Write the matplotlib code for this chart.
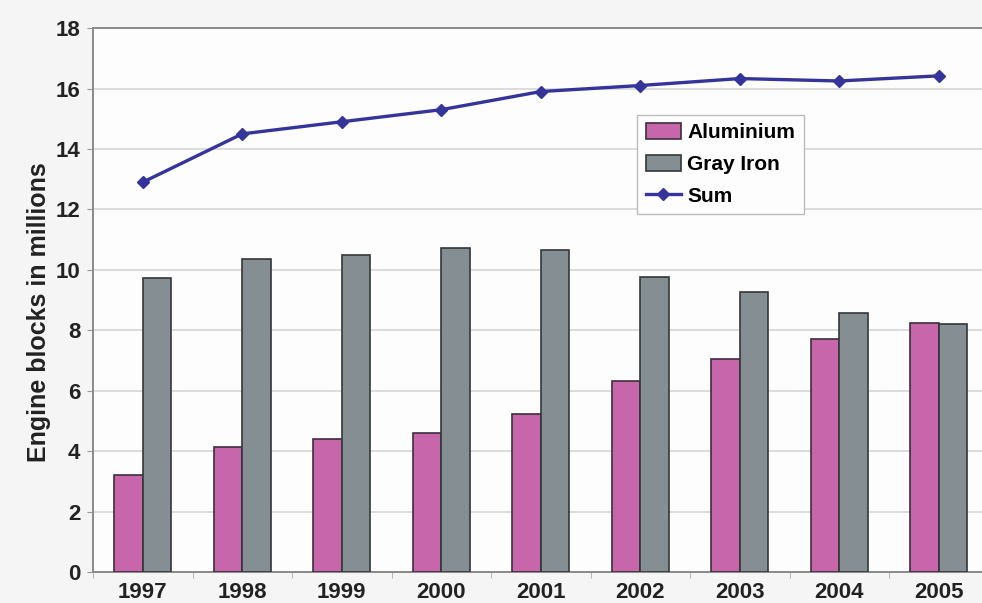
import matplotlib.pyplot as plt
import numpy as np

years = ['1997', '1998', '1999', '2000', '2001', '2002', '2003', '2004', '2005']
aluminium = [3.2, 4.15, 4.4, 4.6, 5.23, 6.32, 7.05, 7.7, 8.24]
gray_iron = [9.73, 10.36, 10.5, 10.72, 10.65, 9.76, 9.27, 8.57, 8.2]
total = [12.9, 14.5, 14.9, 15.3, 15.9, 16.1, 16.33, 16.25, 16.42]

plt.rcParams['font.family'] = ['Liberation Sans', 'DejaVu Sans']
plt.rcParams['font.weight'] = 'bold'

fig = plt.figure(figsize=(9.82, 6.03), dpi=100, facecolor='#f5f5f5')
ax = fig.add_axes([0.0947, 0.0514, 0.912, 0.902])
ax.set_facecolor('#fdfdfd')

x = np.arange(len(years))
w = 0.286
b1 = ax.bar(x - w / 2, aluminium, w, color='#c866ac', edgecolor='#3a2f3a',
            linewidth=1.2, label='Aluminium', zorder=3)
b2 = ax.bar(x + w / 2, gray_iron, w, color='#858e92', edgecolor='#333838',
            linewidth=1.2, label='Gray Iron', zorder=3)
ln, = ax.plot(x, total, color='#34349a', linewidth=2.4, marker='D',
              markersize=6, label='Sum', zorder=4)

ax.set_xlim(-0.5, 8.5)
ax.set_ylim(0, 18)
ax.set_yticks(range(0, 19, 2))
ax.set_xticks(x)
ax.set_xticklabels(years)
ax.set_xticks(np.arange(-0.5, 9, 1), minor=True)
ax.tick_params(axis='x', which='major', length=0, pad=7, labelsize=16)
ax.tick_params(axis='x', which='minor', length=4, color='#aaaaaa')
ax.tick_params(axis='y', length=4, color='#999999', pad=5, labelsize=16)
for lbl in ax.get_xticklabels() + ax.get_yticklabels():
    lbl.set_color('#222222')

ax.grid(axis='y', color='#dcdcdc', linewidth=1.4, zorder=0)
for side in ['left', 'bottom', 'top']:
    ax.spines[side].set_color('#8a8a8a')
    ax.spines[side].set_linewidth(1.4)
ax.spines['right'].set_visible(False)

ax.set_ylabel('Engine blocks in millions', fontsize=18, fontweight='bold',
              color='#222222')
ax.yaxis.set_label_coords(-0.047, 0.478)

# bars first, then the total line
leg = ax.legend([b1, b2, ln], ['Aluminium', 'Gray Iron', 'Sum'],
                loc='upper left', bbox_to_anchor=(0.649, 0.81),
                bbox_transform=fig.transFigure, fontsize=15, frameon=True,
                fancybox=False, edgecolor='#bbbbbb', facecolor='#fdfdfd',
                framealpha=1, handlelength=1.7, handleheight=0.8,
                labelspacing=0.6, handletextpad=0.3, borderpad=0.4,
                borderaxespad=0)
leg.get_frame().set_linewidth(1.0)

fig.savefig('out.png', dpi=100, facecolor=fig.get_facecolor())
